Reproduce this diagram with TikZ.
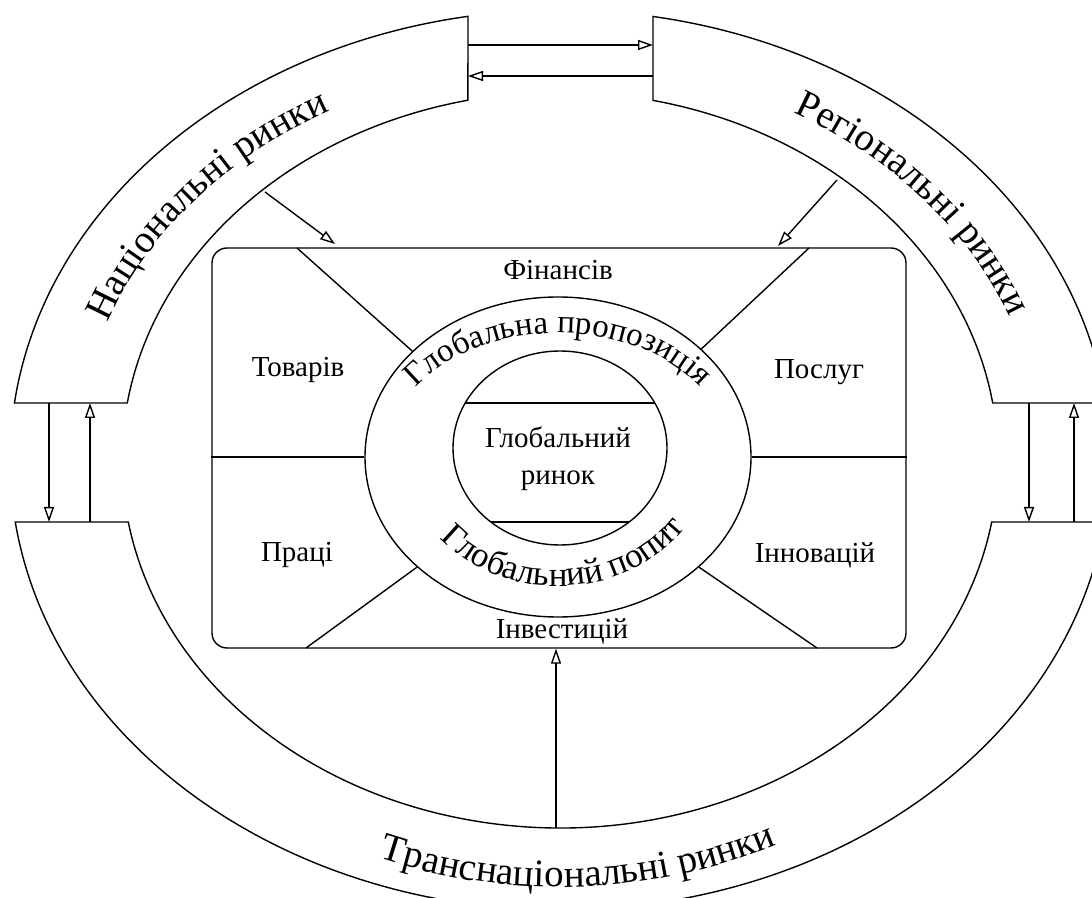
\documentclass[tikz,border=0pt]{standalone}
\usepackage{fontspec}
\setmainfont{Liberation Serif}
\usetikzlibrary{positioning,shapes.geometric,arrows.meta,decorations.text,calc}

\tikzset{
  edge/.style={line width=1.4pt},
  flow/.style={line width=1.4pt, -{Triangle[open, length=15pt, width=10pt]}},
  sector/.style={font=\fontsize{29}{37}\selectfont},
}
\newcommand{\bandfont}{\fontsize{39}{44}\selectfont}
\newcommand{\ringfont}{\fontsize{33}{38}\selectfont}
\newcommand{\demandfont}{\fontsize{35}{40}\selectfont}

\begin{document}
\begin{tikzpicture}[x=1pt, y=1pt]
\useasboundingbox (0,0) rectangle (1092,897);
% centre of the outer band
\coordinate (C) at (560,437);

% national markets
\draw[edge] ([shift={(172.72:550 and 450)}]C) arc[start angle=172.72, end angle=99.63, x radius=550, y radius=450]
  -- ([shift={(102.14:438 and 368)}]C) arc[start angle=102.14, end angle=171.09, x radius=438, y radius=368] -- cycle;
% regional markets
\draw[edge] ([shift={(7.28:550 and 450)}]C) arc[start angle=7.28, end angle=80.26, x radius=550, y radius=450]
  -- ([shift={(77.74:438 and 368)}]C) arc[start angle=77.74, end angle=8.91, x radius=438, y radius=368] -- cycle;
% transnational markets
\draw[edge] ([shift={(187.92:550 and 450)}]C) arc[start angle=187.92, end angle=352.08, x radius=550, y radius=450]
  -- ([shift={(350.30:438 and 368)}]C) arc[start angle=350.30, end angle=189.70, x radius=438, y radius=368] -- cycle;

\path[decorate, decoration={text along path, text align=center, text={|\bandfont|Національні ринки}}]
  ([shift={(178:482 and 397)}]C) arc[start angle=178, end angle=103, x radius=482, y radius=397];
\path[decorate, decoration={text along path, text align=center, text={|\bandfont|Регіональні ринки}}]
  ([shift={(78.5:482 and 397)}]C) arc[start angle=78.5, end angle=0.5, x radius=482, y radius=397];
\path[decorate, decoration={text along path, text align=center, text={|\bandfont|Транснаціональні ринки}}]
  ([shift={(200:498 and 427)}]C) arc[start angle=200, end angle=345, x radius=498, y radius=427];

% market box
\node[draw, edge, rounded corners=15pt, minimum width=694pt, minimum height=400pt, inner sep=0pt] (mkt) at (559,449) {};
\node[draw, edge, ellipse, minimum width=386pt, minimum height=320pt, inner sep=0pt] (glob) at (558,440) {};
\node[draw, edge, ellipse, minimum width=214pt, minimum height=194pt, inner sep=0pt] (core) at (560,449) {};

\draw[edge] (297,649) -- (glob.144.7);
\draw[edge] (809,649) -- (glob.37.3);
\draw[edge] (306,249) -- (glob.218.2);
\draw[edge] (817,249) -- (glob.322);
\draw[edge] (glob.west) -- (glob.west -| mkt.west);
\draw[edge] (glob.east) -- (glob.east -| mkt.east);
\draw[edge] ([shift={(27.6:107 and 97)}]core.center) -- ([shift={(152.4:107 and 97)}]core.center);
\draw[edge] ([shift={(229.7:107 and 97)}]core.center) -- ([shift={(310.3:107 and 97)}]core.center);

\node[sector] (fin) at (558,627) {Фінансів};
\node[sector] (tov) at (298,527) {Товарів};
\node[sector] (pos) at (819,525) {Послуг};
\node[sector] (pra) at (297,342) {Праці};
\node[sector] (inn) at (815,342) {Інновацій};
\node[sector] (inv) at (562,266) {Інвестицій};
\node[sector, align=center] (gtxt) at (558,438) {Глобальний\\ринок};

\path[decorate, decoration={text along path, text align=center, text={|\ringfont|Глобальна пропозиція}}]
  ([shift={(172:172 and 124)}]glob.center) arc[start angle=172, end angle=8, x radius=172, y radius=124];
\path[decorate, decoration={text along path, text align=center, text={|\demandfont|Глобальний попит}}]
  ([shift={(188:152 and 129)}]glob.center) arc[start angle=188, end angle=358, x radius=152, y radius=129];

% arrows between the bands
\coordinate (n1) at (468,852); \coordinate (r1) at (653,852);
\coordinate (n2) at (468,821); \coordinate (r2) at (653,821);
\draw[flow] (n1) -- (r1);
\draw[flow] (r2) -- (n2);
\coordinate (nl1) at (49,494); \coordinate (tl1) at (49,375);
\coordinate (nl2) at (90,494); \coordinate (tl2) at (90,375);
\draw[flow] (nl1) -- (tl1);
\draw[flow] (tl2) -- (nl2);
\coordinate (rl1) at (1029,494); \coordinate (tr1) at (1029,375);
\coordinate (rl2) at (1074,494); \coordinate (tr2) at (1074,375);
\draw[flow] (rl1) -- (tr1);
\draw[flow] (tr2) -- (rl2);
% arrows into the box
\coordinate (nin) at (265,705); \coordinate (nbox) at (335,653);
\coordinate (rin) at (837,717); \coordinate (rbox) at (778,651);
\coordinate (tin) at (556,69);
\draw[flow] (nin) -- (nbox);
\draw[flow] (rin) -- (rbox);
\draw[flow] (tin) -- (tin |- mkt.south);
\end{tikzpicture}
\end{document}
